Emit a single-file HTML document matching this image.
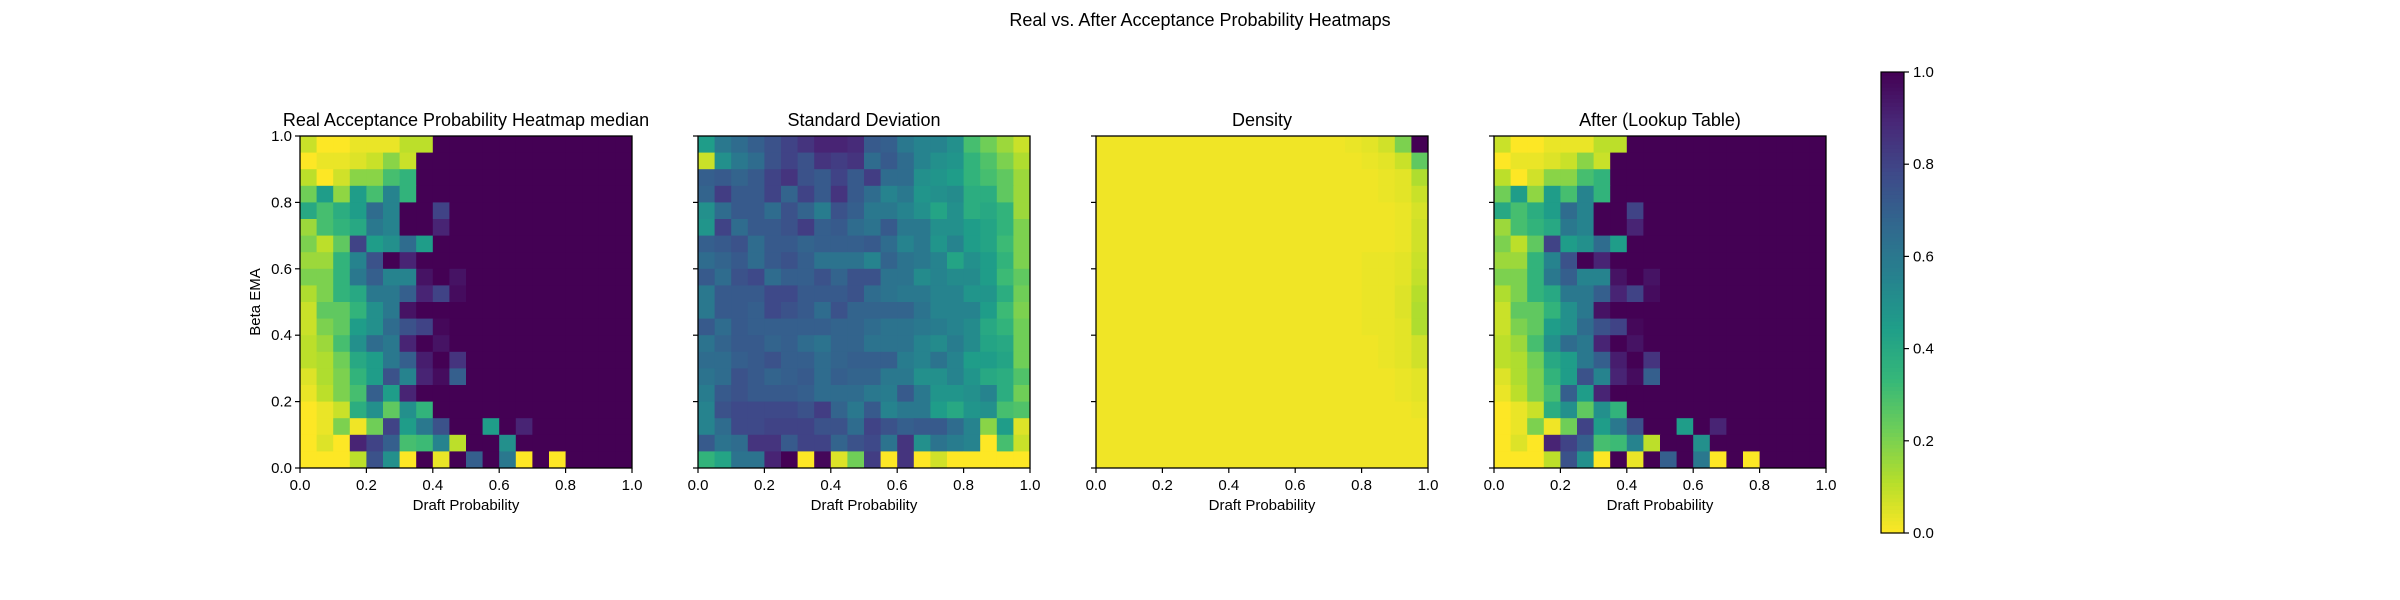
<!DOCTYPE html>
<html><head><meta charset="utf-8">
<style>
html,body{margin:0;padding:0;background:#fff;}
svg{display:block;font-family:"Liberation Sans","DejaVu Sans",sans-serif;}
</style></head>
<body>
<svg id="fig" width="2400" height="600" viewBox="0 0 2400 600" xmlns="http://www.w3.org/2000/svg">
<rect width="2400" height="600" fill="#fff"/>
<text x="1200" y="26" font-size="18" text-anchor="middle" fill="#000">Real vs. After Acceptance Probability Heatmaps</text>
<g id="panels"></g>
<g id="cbar"></g>
</svg>
<script>
// ---- data (20x20 grids, rows top (beta=1.0) to bottom (beta=0.0)) ----
const xTicks = ["0.0","0.2","0.4","0.6","0.8","1.0"];
const yTicks = ["0.0","0.2","0.4","0.6","0.8","1.0"];
const cbarTicks = ["0.0","0.2","0.4","0.6","0.8","1.0"];
const panelTitles = ["Real Acceptance Probability Heatmap median","Standard Deviation","Density","After (Lookup Table)"];

const realMedian = [
[0.08,0,0,0.03,0.03,0.03,0.1,0.1,1,1,1,1,1,1,1,1,1,1,1,1],
[0,0.03,0.03,0.05,0.08,0.18,0.08,1,1,1,1,1,1,1,1,1,1,1,1,1],
[0.1,0,0.07,0.18,0.18,0.3,0.35,1,1,1,1,1,1,1,1,1,1,1,1,1],
[0.22,0.45,0.17,0.45,0.3,0.55,0.35,1,1,1,1,1,1,1,1,1,1,1,1,1],
[0.4,0.3,0.38,0.45,0.65,0.55,1,1,0.8,1,1,1,1,1,1,1,1,1,1,1],
[0.15,0.3,0.35,0.4,0.6,0.55,1,1,0.9,1,1,1,1,1,1,1,1,1,1,1],
[0.2,0.1,0.25,0.8,0.45,0.5,0.65,0.45,1,1,1,1,1,1,1,1,1,1,1,1],
[0.15,0.15,0.35,0.55,0.75,1,0.9,1,1,1,1,1,1,1,1,1,1,1,1,1],
[0.2,0.2,0.35,0.6,0.7,0.55,0.55,0.95,1,0.95,1,1,1,1,1,1,1,1,1,1],
[0.12,0.2,0.35,0.4,0.6,0.6,0.7,0.9,0.8,0.97,1,1,1,1,1,1,1,1,1,1],
[0.08,0.25,0.25,0.35,0.5,0.6,0.95,1,1,1,1,1,1,1,1,1,1,1,1,1],
[0.08,0.2,0.25,0.45,0.5,0.65,0.75,0.8,0.98,1,1,1,1,1,1,1,1,1,1,1],
[0.1,0.15,0.3,0.5,0.65,0.6,0.9,1,0.95,1,1,1,1,1,1,1,1,1,1,1],
[0.1,0.12,0.22,0.4,0.45,0.6,0.7,0.92,1,0.85,1,1,1,1,1,1,1,1,1,1],
[0.05,0.12,0.2,0.35,0.45,0.75,0.55,0.9,0.97,0.7,1,1,1,1,1,1,1,1,1,1],
[0.03,0.1,0.2,0.3,0.7,0.45,0.9,1,1,1,1,1,1,1,1,1,1,1,1,1],
[0,0.03,0.08,0.38,0.5,0.25,0.5,0.35,1,1,1,1,1,1,1,1,1,1,1,1],
[0,0.03,0.2,0.02,0.22,0.8,0.45,0.6,0.75,1,1,0.45,1,0.9,1,1,1,1,1,1],
[0,0.05,0,0.9,0.8,0.7,0.3,0.32,0.55,0.1,1,1,0.5,1,1,1,1,1,1,1],
[0,0,0,0.1,0.75,0.5,0,1,0.03,1,0.7,1,0.6,0,1,0,1,1,1,1]
];
const stdDev = [
[.45,.6,.65,.7,.75,.8,.85,.9,.9,.88,.72,.7,.6,.55,.55,.5,.3,.22,.15,.08],
[.08,.5,.6,.65,.75,.8,.75,.85,.82,.85,.65,.72,.65,.55,.5,.48,.35,.28,.2,.12],
[.7,.72,.68,.72,.8,.85,.75,.72,.8,.72,.82,.65,.65,.5,.48,.45,.35,.3,.25,.15],
[.68,.82,.72,.72,.8,.68,.8,.72,.85,.72,.65,.55,.6,.48,.5,.52,.38,.38,.25,.15],
[.5,.65,.72,.72,.65,.75,.68,.58,.75,.7,.6,.6,.55,.5,.42,.5,.38,.4,.35,.15],
[.48,.8,.65,.72,.72,.75,.82,.7,.72,.65,.62,.72,.6,.6,.5,.5,.45,.42,.35,.2],
[.7,.72,.75,.65,.72,.72,.68,.7,.7,.7,.72,.65,.55,.6,.48,.55,.45,.42,.32,.2],
[.65,.68,.72,.65,.72,.75,.7,.62,.62,.62,.55,.68,.62,.6,.55,.42,.5,.45,.35,.2],
[.72,.65,.75,.78,.65,.7,.7,.75,.68,.75,.75,.62,.62,.52,.55,.52,.52,.45,.32,.25],
[.6,.72,.72,.72,.78,.78,.72,.72,.72,.75,.65,.62,.6,.6,.55,.55,.48,.48,.38,.22],
[.6,.72,.72,.7,.78,.75,.72,.65,.75,.68,.68,.68,.68,.62,.55,.55,.55,.45,.32,.2],
[.72,.65,.72,.7,.7,.7,.7,.7,.68,.68,.65,.62,.62,.6,.58,.55,.52,.4,.35,.22],
[.62,.68,.72,.72,.68,.7,.65,.62,.68,.68,.62,.62,.62,.55,.52,.58,.52,.42,.4,.22],
[.65,.65,.7,.72,.75,.7,.7,.65,.68,.7,.7,.7,.58,.55,.62,.55,.45,.45,.42,.22],
[.62,.65,.75,.72,.68,.7,.72,.65,.7,.68,.68,.6,.6,.5,.5,.55,.48,.4,.38,.28],
[.58,.72,.75,.72,.72,.72,.7,.65,.65,.65,.6,.58,.72,.6,.48,.48,.5,.55,.38,.22],
[.55,.75,.78,.78,.78,.78,.75,.82,.68,.6,.72,.55,.6,.6,.45,.4,.48,.5,.3,.28],
[.55,.65,.78,.78,.8,.8,.8,.75,.75,.65,.8,.75,.7,.72,.72,.65,.55,.18,.45,.05],
[.72,.62,.65,.85,.85,.72,.8,.8,.68,.75,.78,.62,.85,.5,.62,.58,.55,0,.3,.08],
[.35,.42,.62,.62,.9,1,0,.98,.05,.22,.82,0,.85,0,.07,0,0,0,0,0]
];
const density = [
[.02,.02,.02,.02,.02,.02,.02,.02,.02,.02,.02,.02,.02,.02,.02,.03,.04,.07,.2,1],
[.02,.02,.02,.02,.02,.02,.02,.02,.02,.02,.02,.02,.02,.02,.02,.02,.03,.04,.08,.25],
[.02,.02,.02,.02,.02,.02,.02,.02,.02,.02,.02,.02,.02,.02,.02,.02,.02,.03,.04,.12],
[.02,.02,.02,.02,.02,.02,.02,.02,.02,.02,.02,.02,.02,.02,.02,.02,.02,.03,.04,.08],
[.02,.02,.02,.02,.02,.02,.02,.02,.02,.02,.02,.02,.02,.02,.02,.02,.02,.02,.03,.06],
[.02,.02,.02,.02,.02,.02,.02,.02,.02,.02,.02,.02,.02,.02,.02,.02,.02,.02,.03,.07],
[.02,.02,.02,.02,.02,.02,.02,.02,.02,.02,.02,.02,.02,.02,.02,.02,.02,.02,.03,.07],
[.02,.02,.02,.02,.02,.02,.02,.02,.02,.02,.02,.02,.02,.02,.02,.02,.03,.03,.04,.08],
[.02,.02,.02,.02,.02,.02,.02,.02,.02,.02,.02,.02,.02,.02,.02,.02,.03,.03,.04,.09],
[.02,.02,.02,.02,.02,.02,.02,.02,.02,.02,.02,.02,.02,.02,.02,.02,.03,.03,.05,.11],
[.02,.02,.02,.02,.02,.02,.02,.02,.02,.02,.02,.02,.02,.02,.02,.02,.03,.03,.05,.12],
[.02,.02,.02,.02,.02,.02,.02,.02,.02,.02,.02,.02,.02,.02,.02,.02,.03,.03,.04,.12],
[.02,.02,.02,.02,.02,.02,.02,.02,.02,.02,.02,.02,.02,.02,.02,.02,.02,.03,.04,.07],
[.02,.02,.02,.02,.02,.02,.02,.02,.02,.02,.02,.02,.02,.02,.02,.02,.02,.03,.04,.07],
[.02,.02,.02,.02,.02,.02,.02,.02,.02,.02,.02,.02,.02,.02,.02,.02,.02,.02,.03,.04],
[.02,.02,.02,.02,.02,.02,.02,.02,.02,.02,.02,.02,.02,.02,.02,.02,.02,.02,.03,.04],
[.02,.02,.02,.02,.02,.02,.02,.02,.02,.02,.02,.02,.02,.02,.02,.02,.02,.02,.02,.03],
[.02,.02,.02,.02,.02,.02,.02,.02,.02,.02,.02,.02,.02,.02,.02,.02,.02,.02,.02,.02],
[.02,.02,.02,.02,.02,.02,.02,.02,.02,.02,.02,.02,.02,.02,.02,.02,.02,.02,.02,.02],
[.02,.02,.02,.02,.02,.02,.02,.02,.02,.02,.02,.02,.02,.02,.02,.02,.02,.02,.02,.02]
];
const afterLookup = realMedian.map(r => r.slice());

const NS = "http://www.w3.org/2000/svg";
const VIR = [[68,1,84],[72,40,120],[62,74,137],[49,104,142],[38,130,142],[31,158,137],[53,183,121],[110,206,88],[181,222,43],[253,231,37]];
function color(v){ // viridis_r : 1 -> purple, 0 -> yellow
  let t = Math.max(0,Math.min(1,1-v))*(VIR.length-1);
  let i = Math.min(Math.floor(t),VIR.length-2), f=t-i;
  const c = VIR[i].map((a,k)=>Math.round(a+(VIR[i+1][k]-a)*f));
  return `rgb(${c[0]},${c[1]},${c[2]})`;
}
function mk(tag, attrs, parent){
  const e=document.createElementNS(NS,tag);
  for(const k in attrs) e.setAttribute(k,attrs[k]);
  parent.appendChild(e); return e;
}
const panelsG=document.getElementById('panels');
const grids=[realMedian,stdDev,density,afterLookup];
const lefts=[300,698,1096,1494];
const TOP=136, SIZE=332;
grids.forEach((g,p)=>{
  const L=lefts[p];
  const grp=mk('g',{},panelsG);
  
  
  const n=g.length, m=g[0].length;
  const xs = c => L + c*SIZE/m;
  const ys = r => TOP + r*SIZE/n;
  g.forEach((row,r)=>row.forEach((v,c)=>{
    const cell=mk('rect',{x:xs(c),y:ys(r),width:SIZE/m+0.5,height:SIZE/n+0.5,fill:color(v)},grp);
    
    
  }));
  const frame=mk('rect',{x:L,y:TOP,width:SIZE,height:SIZE,fill:'none',stroke:'#000','stroke-width':1.3},grp);
  
  
  const t=mk('text',{x:L+SIZE/2,y:TOP-10,'font-size':18,'text-anchor':'middle',fill:'#000'},grp);
  t.textContent=panelTitles[p];
  
  
  xTicks.forEach((lab,i)=>{
    const x=L+i*SIZE/(xTicks.length-1);
    mk('line',{x1:x,x2:x,y1:TOP+SIZE,y2:TOP+SIZE+5,stroke:'#000','stroke-width':1.2},grp);
    const tl=mk('text',{x:x,y:TOP+SIZE+22,'font-size':15,'text-anchor':'middle',fill:'#000'},grp);
    tl.textContent=lab;
    
    
  });
  const xl=mk('text',{x:L+SIZE/2,y:TOP+SIZE+42,'font-size':15,'text-anchor':'middle',fill:'#000'},grp);
  xl.textContent='Draft Probability';
  
  
  yTicks.forEach((lab,i)=>{
    const y=TOP+SIZE-i*SIZE/(yTicks.length-1);
    mk('line',{x1:L-5,x2:L,y1:y,y2:y,stroke:'#000','stroke-width':1.2},grp);
    if(p===0){
      const tl=mk('text',{x:L-8,y:y+5,'font-size':15,'text-anchor':'end',fill:'#000'},grp);
      tl.textContent=lab;
      
      
    }
  });
  if(p===0){
    const yl=mk('text',{x:0,y:0,'font-size':15,'text-anchor':'middle',fill:'#000',transform:`translate(${L-40},${TOP+SIZE/2}) rotate(-90)`},grp);
    yl.textContent='Beta EMA';
    
    
  }
});
// colorbar
const cb=document.getElementById('cbar');


const CBX=1881, CBW=23, CBT=72, CBH=461, STEPS=120;
for(let i=0;i<STEPS;i++){
  const v=1-(i+0.5)/STEPS;
  mk('rect',{x:CBX,y:CBT+i*CBH/STEPS,width:CBW,height:CBH/STEPS+0.6,fill:color(v)},cb);
}
mk('rect',{x:CBX,y:CBT,width:CBW,height:CBH,fill:'none',stroke:'#000','stroke-width':1.2},cb);
cbarTicks.forEach((lab,i)=>{
  const y=CBT+CBH-i*CBH/(cbarTicks.length-1);
  mk('line',{x1:CBX+CBW,x2:CBX+CBW+5,y1:y,y2:y,stroke:'#000','stroke-width':1.2},cb);
  const tl=mk('text',{x:CBX+CBW+9,y:y+5,'font-size':15,fill:'#000'},cb);
  tl.textContent=lab;
  
  
});
</script>
</body></html>
